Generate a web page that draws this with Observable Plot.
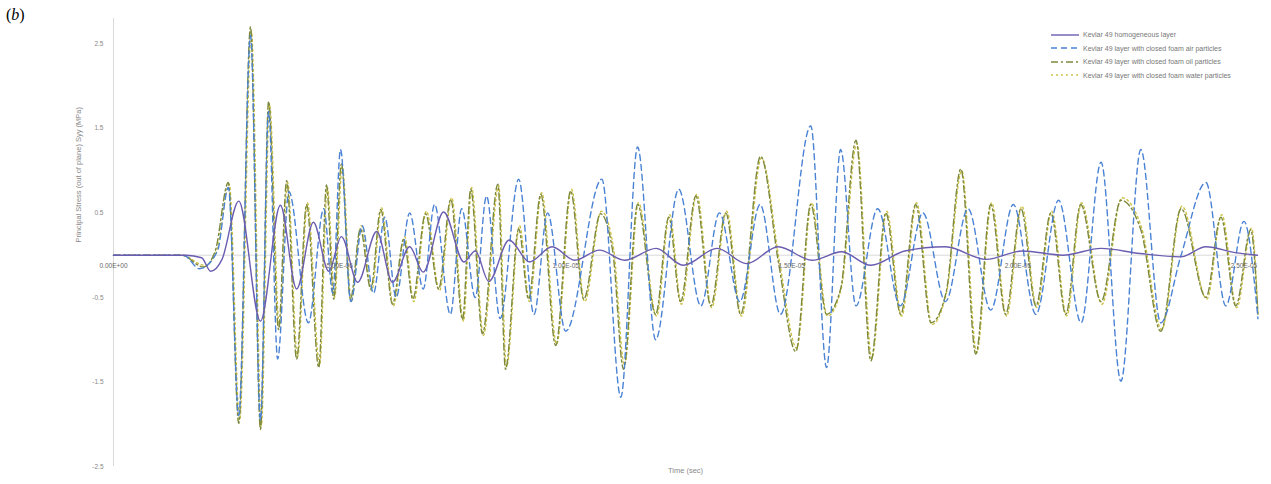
<!DOCTYPE html>
<html><head><meta charset="utf-8">
<script src="https://cdn.jsdelivr.net/npm/d3@7"></script>
<script src="https://cdn.jsdelivr.net/npm/@observablehq/plot@0.6"></script>
<style>
body{margin:0;background:#fff;}
#wrap{position:relative;width:1271px;height:484px;}
#lab{position:absolute;left:6px;top:6px;font:16px "Liberation Serif",serif;}
#legend{position:absolute;left:1051px;top:28px;font:7px "Liberation Sans",sans-serif;color:#777;}
#legend div{height:13.5px;display:flex;align-items:center;}
#legend svg{margin-right:4px;}
</style></head><body>
<div id="wrap"><div id="lab">(<i>b</i>)</div><div id="legend"></div></div>
<script>
const seriesNames = ["Kevlar 49 homogeneous layer","Kevlar 49 layer with closed foam air particles","Kevlar 49 layer with closed foam oil particles","Kevlar 49 layer with closed foam water particles"];
const seriesColors = ["#6a5cb0","#4a82d4","#7d8a3e","#cfc24a"];
const seriesDash = [null,"6,4","7,3,2,3","2,3"];
const xTicksUs = [0,5,10,15,20,25];
const xTickLabels = ["0.00E+00","5.00E-06","1.00E-05","1.50E-05","2.00E-05","2.50E-05"];
const yTicks = [2.5,1.5,0.5,-0.5,-1.5,-2.5];
const yTickLabels = ["2.5","1.5","0.5","-0.5","-1.5","-2.5"];

// time in microseconds, stress in MPa (extrema)
const homTime = [0,1.60,1.95,2.15,2.40,2.77,3.25,3.69,4.05,4.42,4.76,5.04,5.40,5.82,6.17,6.55,6.85,7.30,7.75,8.00,8.30,8.75,9.20,9.70,10.20,10.75,11.30,12.00,12.60,13.35,14.00,14.70,15.45,16.10,16.75,17.50,18.40,19.30,20.10,21.00,21.84,22.70,23.60,24.16,24.80,25.30];
const homVal  = [0,0,-0.03,-0.19,-0.05,0.64,-0.78,0.59,-0.40,0.39,-0.19,0.22,-0.32,0.28,-0.32,0.10,-0.20,0.51,-0.08,0.05,-0.31,0.18,-0.08,0.10,-0.06,0.06,-0.06,0.08,-0.12,0.08,-0.10,0.10,-0.06,0.04,-0.12,0.05,0.10,-0.05,0.05,0.00,0.08,0.02,-0.02,0.10,0.03,0.0];

const airTime = [0,1.55,1.90,2.30,2.54,2.77,3.03,3.25,3.43,3.63,3.88,4.31,4.65,4.85,5.02,5.25,5.50,5.75,6.00,6.25,6.55,6.85,7.10,7.45,7.70,8.00,8.25,8.55,8.96,9.30,9.60,10.00,10.80,11.22,11.59,11.99,12.50,12.99,13.40,13.85,14.30,14.75,15.42,15.77,16.08,16.42,16.90,17.40,17.90,18.40,18.90,19.40,19.90,20.40,20.90,21.40,21.84,22.28,22.72,23.16,23.61,24.16,24.60,25.00,25.31];
const airVal  = [0,0,-0.16,0.05,0.80,-1.90,2.60,-1.95,1.70,-1.23,0.75,-0.80,0.55,-0.45,1.25,-0.55,0.35,-0.45,0.45,-0.50,0.50,-0.40,0.60,-0.70,0.55,-0.50,0.70,-0.75,0.90,-0.70,0.50,-0.90,0.90,-1.68,1.28,-1.00,0.78,-0.60,0.50,-0.55,0.60,-0.70,1.53,-1.33,1.25,-0.60,0.55,-0.60,0.50,-0.55,0.55,-0.65,0.60,-0.70,0.65,-0.80,1.10,-1.49,1.25,-0.80,0.00,0.86,-0.60,0.40,-0.75];

const oilTime = [0,1.50,1.99,2.25,2.54,2.77,3.03,3.25,3.43,3.65,3.83,4.05,4.27,4.54,4.71,4.87,5.04,5.24,5.46,5.69,5.91,6.17,6.42,6.62,6.90,7.19,7.46,7.72,7.90,8.16,8.50,8.67,8.96,9.18,9.45,9.78,10.11,10.40,10.77,11.04,11.28,11.59,11.99,12.28,12.54,12.88,13.21,13.54,13.87,14.31,14.71,15.09,15.42,15.77,16.08,16.42,16.75,17.08,17.41,17.74,18.08,18.41,18.74,19.07,19.40,19.73,20.07,20.40,20.73,21.06,21.39,21.84,22.28,22.72,23.16,23.61,24.16,24.49,24.82,25.15,25.31];
const oilVal  = [0,0,-0.14,0.05,0.86,-1.99,2.70,-2.06,1.82,-0.88,0.88,-1.23,0.60,-1.33,0.83,-0.52,1.08,-0.52,0.31,-0.40,0.54,-0.58,0.19,-0.52,0.49,-0.40,0.66,-0.76,0.78,-0.93,0.84,-1.35,0.31,-0.52,0.72,-1.07,0.76,-0.52,0.49,0.05,-1.35,0.60,-0.70,0.45,-0.55,0.70,-0.60,0.50,-0.70,1.17,-0.10,-1.14,0.60,-0.70,-0.40,1.36,-1.25,0.50,-0.70,0.60,-0.80,-0.45,1.02,-1.17,0.60,-0.70,0.55,-0.60,0.50,-0.70,0.60,-0.55,0.65,0.30,-0.90,0.55,-0.50,0.45,-0.60,0.30,-0.70];

const waterTime = [0,1.50,2.02,2.28,2.56,2.79,3.05,3.27,3.45,3.67,3.85,4.07,4.29,4.56,4.73,4.89,5.06,5.26,5.48,5.71,5.93,6.19,6.44,6.64,6.92,7.21,7.48,7.74,7.92,8.18,8.52,8.69,8.98,9.20,9.47,9.80,10.13,10.42,10.79,11.06,11.30,11.61,12.01,12.30,12.56,12.90,13.23,13.56,13.89,14.33,14.73,15.11,15.44,15.79,16.10,16.44,16.77,17.10,17.43,17.76,18.10,18.43,18.76,19.09,19.42,19.75,20.09,20.42,20.75,21.08,21.41,21.86,22.30,22.74,23.18,23.63,24.18,24.51,24.84,25.17,25.31];
const waterVal= [0,0,-0.12,0.05,0.84,-1.95,2.65,-2.02,1.78,-0.85,0.86,-1.20,0.62,-1.30,0.80,-0.50,1.05,-0.55,0.35,-0.42,0.56,-0.60,0.22,-0.55,0.52,-0.42,0.68,-0.78,0.80,-0.95,0.82,-1.32,0.35,-0.55,0.74,-1.05,0.78,-0.55,0.52,0.08,-1.30,0.62,-0.72,0.48,-0.58,0.72,-0.62,0.52,-0.72,1.15,-0.08,-1.10,0.62,-0.72,-0.38,1.32,-1.22,0.52,-0.72,0.62,-0.82,-0.42,1.00,-1.15,0.62,-0.72,0.58,-0.62,0.52,-0.72,0.62,-0.58,0.68,0.32,-0.88,0.58,-0.52,0.48,-0.62,0.32,-0.68];

const times = [homTime, airTime, oilTime, waterTime];
const vals = [homVal, airVal, oilVal, waterVal];
const data = [];
[3,2,1,0].forEach(s => times[s].forEach((t,i) => data.push({series: seriesNames[s], t: t*1e-6, v: vals[s][i], order: s})));

const lines = [3,2,1,0].map(s => Plot.line(data.filter(d => d.order === s), {
  x: "t", y: "v", stroke: seriesColors[s], strokeWidth: 1.4,
  strokeDasharray: seriesDash[s] || undefined, curve: "monotone-x"
}));

const chart = Plot.plot({
  width: 1271, height: 484,
  marginLeft: 113, marginRight: 14, marginTop: 18, marginBottom: 18,
  style: {fontFamily: "Liberation Sans, sans-serif", fontSize: "7px", color: "#888", background: "transparent"},
  x: {domain: [0, 25.3e-6], axis: null},
  y: {domain: [-2.5, 2.8], axis: null},
  marks: [
    Plot.ruleX([0], {stroke: "#d9d9d9", strokeWidth: 1}),
    Plot.ruleY([0], {stroke: "#d9d9d9", strokeWidth: 1}),
    ...lines,
    Plot.text(yTicks.map((v,i) => ({v, l: yTickLabels[i]})), {x: 0, y: "v", text: "l", dx: -10, textAnchor: "end", fill: "#888", fontSize: 6.5}),
    Plot.text(xTicksUs.map((t,i) => ({t: t*1e-6, l: xTickLabels[i]})), {x: "t", y: 0, text: "l", dy: 11, fill: "#666", fontSize: 6.5}),
    Plot.text(["Principal Stress (out of plane) Syy (MPa)"], {frameAnchor: "left", dx: -35, rotate: -90, fill: "#888", fontSize: 7.5}),
    Plot.text(["Time (sec)"], {frameAnchor: "bottom", dy: 6, fill: "#888", fontSize: 7.5})
  ]
});
document.getElementById("wrap").appendChild(chart);
chart.style.position = "absolute"; chart.style.left = "0"; chart.style.top = "0";

const leg = document.getElementById("legend");
seriesNames.forEach((n,i) => {
  const row = document.createElement("div");
  row.innerHTML = `<svg width="28" height="4"><line x1="0" y1="2" x2="28" y2="2" stroke="${seriesColors[i]}" stroke-width="1.4" ${seriesDash[i] ? `stroke-dasharray="${seriesDash[i]}"` : ""}/></svg><span>${n}</span>`;
  leg.appendChild(row);
});
</script></body></html>
